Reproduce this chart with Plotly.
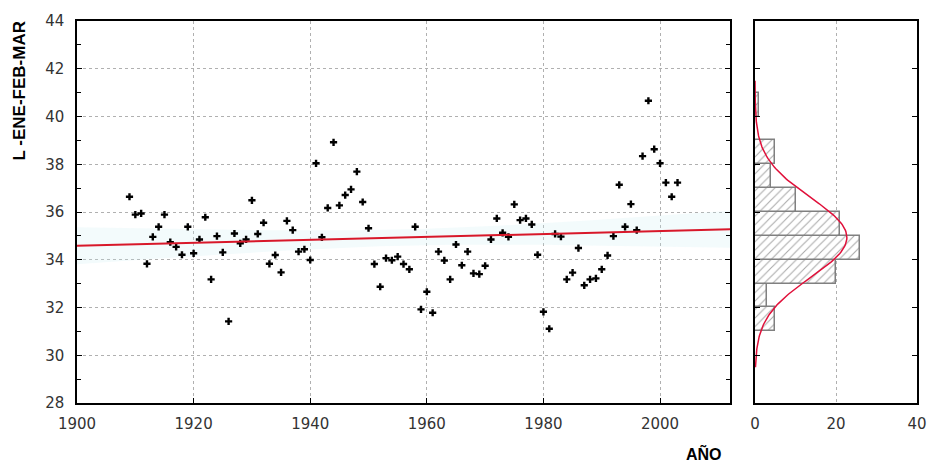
import numpy as np
import plotly.graph_objects as go

# ---- data ----
years = list(range(1909, 2004))
values = [
    36.64, 35.89, 35.94, 33.83, 34.96, 35.38, 35.89, 34.74, 34.54, 34.21,  # 1909-1918
    35.38, 34.27, 34.85, 35.78, 33.18, 34.99, 34.31, 31.42, 35.10, 34.69,  # 1919-1928
    34.85, 36.49, 35.08, 35.55, 33.83, 34.20, 33.47, 35.63, 35.24, 34.34,  # 1929-1938
    34.44, 33.99, 38.04, 34.94, 36.17, 38.92, 36.28, 36.71, 36.95, 37.69,  # 1939-1948
    36.42, 35.32, 33.82, 32.87, 34.07, 33.98, 34.13, 33.82, 33.60, 35.38,  # 1949-1958
    31.92, 32.66, 31.78, 34.34, 33.97, 33.18, 34.64, 33.77, 34.34, 33.43,  # 1959-1968
    33.40, 33.75, 34.85, 35.73, 35.13, 34.96, 36.32, 35.66, 35.73, 35.48,  # 1969-1978
    34.21, 31.82, 31.11, 35.08, 34.97, 33.18, 33.46, 34.49, 32.93, 33.18,  # 1979-1988
    33.22, 33.60, 34.18, 34.99, 37.14, 35.38, 36.33, 35.24, 38.34, 40.66,  # 1989-1998
    38.63, 38.04, 37.23, 36.64, 37.23,                                      # 1999-2003
]
bin_edges = list(range(31, 42))
x_ticks_main = [1900, 1920, 1940, 1960, 1980, 2000]
y_ticks = [28, 30, 32, 34, 36, 38, 40, 42, 44]
x_ticks_hist = [0, 20, 40]
y_title = "L -ENE-FEB-MAR"
x_title = "AÑO"

yrs = np.array(years, dtype=float)
vals = np.array(values, dtype=float)

# regression line + confidence band
slope, intercept = np.polyfit(yrs, vals, 1)
xl = np.linspace(1900, 2012, 113)
yl = intercept + slope * xl
n = len(vals)
resid = vals - (intercept + slope * yrs)
s = np.sqrt(np.sum(resid ** 2) / (n - 2))
se = s * np.sqrt(1 / n + (xl - yrs.mean()) ** 2 / np.sum((yrs - yrs.mean()) ** 2))
lo, hi = yl - 1.985 * se, yl + 1.985 * se

# histogram + normal curve
counts, edges = np.histogram(vals, bins=bin_edges)
centers = (edges[:-1] + edges[1:]) / 2
mu, sd = vals.mean(), vals.std(ddof=1)
yc = np.linspace(29.5, 41.5, 200)
xc = n * 1.0 * np.exp(-0.5 * ((yc - mu) / sd) ** 2) / (sd * np.sqrt(2 * np.pi))

fig = go.Figure()
fig.add_trace(go.Scatter(x=np.concatenate([xl, xl[::-1]]), y=np.concatenate([hi, lo[::-1]]),
                         fill="toself", fillcolor="rgba(200,236,242,0.22)", line=dict(width=0),
                         mode="lines", hoverinfo="skip", showlegend=False, xaxis="x", yaxis="y"))
fig.add_trace(go.Scatter(x=yrs, y=vals, mode="markers",
                         marker=dict(symbol="cross", size=6, color="black"),
                         showlegend=False, xaxis="x", yaxis="y"))
fig.add_trace(go.Scatter(x=xl, y=yl, mode="lines", line=dict(color="#d8182a", width=2),
                         showlegend=False, xaxis="x", yaxis="y"))
fig.add_trace(go.Bar(x=counts, y=centers, orientation="h", width=1.0,
                     marker=dict(color="white", line=dict(color="#808080", width=1.5),
                                 pattern=dict(shape="/", fgcolor="#555555", size=6, solidity=0.18)),
                     showlegend=False, xaxis="x2", yaxis="y2"))
fig.add_trace(go.Scatter(x=xc, y=yc, mode="lines", line=dict(color="#e0103a", width=1.5),
                         showlegend=False, xaxis="x2", yaxis="y2"))

tickfont = dict(family="DejaVu Sans", size=15, color="#333333")
grid = dict(showgrid=True, gridcolor="#b0b0b0", griddash="dot", gridwidth=1)
axline = dict(showline=True, linecolor="black", linewidth=1.5, automargin=False)

fig.update_layout(
    width=929, height=462, margin=dict(l=0, r=0, t=0, b=0),
    paper_bgcolor="white", plot_bgcolor="white", bargap=0,
    xaxis=dict(domain=[0.0829, 0.7858], range=[1900, 2012], tickvals=x_ticks_main,
               ticks="inside", ticklen=5, tickcolor="black", mirror=True, zeroline=False,
               tickfont=tickfont, ticklabelstandoff=6, anchor="y", **grid, **axline),
    yaxis=dict(domain=[0.1277, 0.9545], range=[28, 44], tickvals=y_ticks,
               ticks="inside", ticklen=5, tickcolor="black", mirror="ticks", zeroline=False,
               minor=dict(dtick=1, ticks="inside", ticklen=4, tickcolor="black", showgrid=False),
               tickfont=tickfont, ticklabelstandoff=8, anchor="x", **grid, **axline),
    xaxis2=dict(domain=[0.8127, 0.9871], range=[0, 40], tickvals=x_ticks_hist,
                ticks="", mirror=True, zeroline=False, tickfont=tickfont, ticklabelstandoff=6,
                anchor="y2", **grid, **axline),
    yaxis2=dict(domain=[0.1277, 0.9545], range=[28, 44], tickvals=y_ticks, showticklabels=False,
                ticks="inside", ticklen=5, tickcolor="black", mirror="ticks", zeroline=False,
                showgrid=False, anchor="x2", **axline),
    annotations=[
        dict(text="<b>" + y_title + "</b>", x=0.0205, y=0.802, xref="paper", yref="paper",
             textangle=-90, showarrow=False, xanchor="center", yanchor="middle",
             font=dict(family="Liberation Sans", size=17, color="black")),
        dict(text="<b>" + x_title + "</b>", x=0.758, y=0.019, xref="paper", yref="paper",
             showarrow=False, xanchor="center", yanchor="middle",
             font=dict(family="Liberation Sans", size=16, color="black")),
    ],
)

fig.write_html("out.html", config={"displayModeBar": False},
               post_script="document.body.style.margin='0px';")
